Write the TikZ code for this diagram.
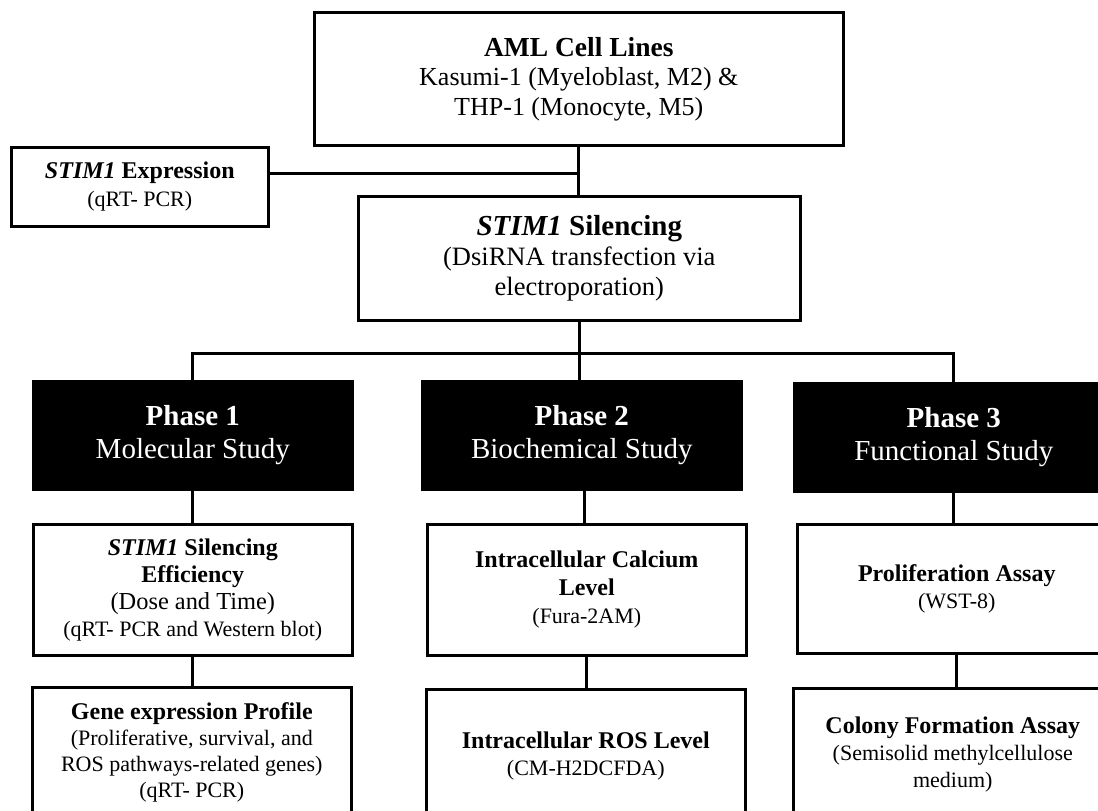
\documentclass[tikz,border=0pt]{standalone}
\usepackage{fontspec}
\setmainfont{Liberation Serif}
\usepackage{tikz}
\usetikzlibrary{positioning}

\newcommand{\fsz}[2]{\fontsize{#1}{#2}\selectfont}
\newcommand{\stim}{\textbf{\textit{STIM1}}}

\tikzset{
	box/.style={draw, line width=2.6, inner sep=0pt, align=center,
		anchor=north west, minimum width=319, minimum height=131},
	phasebox/.style={box, fill=black, text=white, minimum height=108,
		font=\fsz{29}{33}},
	link/.style={line width=3},
}

\begin{document}
\begin{tikzpicture}[x=1pt,y=-1pt]
	\useasboundingbox (0,0) rectangle (1098,811);
	\clip (0,0) rectangle (1098,811);
	
	\node[box, minimum width=529, minimum height=133, font=\fsz{26}{29.5}] 
	(cells) at (313,11) {{\fsz{27.5}{29.5}\bfseries AML Cell Lines}\\
		Kasumi-1 (Myeloblast, M2) \&\\ THP-1 (Monocyte, M5)};
	\node[box, minimum width=257, minimum height=79, font=\fsz{22}{28}] 
	(expr) at (10,146) {{\fsz{24}{28}\stim\ \bfseries Expression}\\ (qRT- PCR)};
	\node[box, minimum width=442, minimum height=124, font=\fsz{26.5}{30}] 
	(silence) at (357,195) {{\fsz{29}{30}\stim\ \bfseries Silencing}\\
		(DsiRNA transfection via\\ electroporation)};
	
	\node[phasebox] (ph1) at (32,380) {\textbf{Phase 1}\\ Molecular Study};
	\node[phasebox] (ph2) at (421,380) {\textbf{Phase 2}\\ Biochemical Study};
	\node[phasebox] (ph3) at (793,382) {\textbf{Phase 3}\\ Functional Study};
	
	\node[box, font=\fsz{22}{27}] (eff) at (32,523) 
	{{\fsz{24}{28}\stim\ \bfseries Silencing}\\ {\fsz{24}{28}\bfseries Efficiency}\\
		{\fsz{24.4}{28}(Dose and Time)}\\ (qRT- PCR and Western blot)};
	\node[box, font=\fsz{22}{26}] (gene) at (31,686) 
	{{\fsz{24}{26}\bfseries Gene expression Profile}\\ (Proliferative, survival, and\\
		ROS pathways-related genes)\\ (qRT- PCR)};
	
	\node[box, font=\fsz{22}{28}] (calcium) at (426,523) 
	{{\fsz{24}{28}\bfseries Intracellular Calcium}\\ {\fsz{24}{28}\bfseries Level}\\ (Fura-2AM)};
	\node[box, minimum height=134, font=\fsz{22}{27}] (ros) at (425,688) 
	{{\fsz{24}{27}\bfseries Intracellular ROS Level}\\ (CM-H2DCFDA)};
	
	\node[box, minimum height=129, font=\fsz{22}{27}] (prolif) at (796,523) 
	{{\fsz{24}{27}\bfseries Proliferation Assay}\\ (WST-8)};
	\node[box, minimum height=132, font=\fsz{22}{27}] (colony) at (792,687) 
	{{\fsz{24}{27}\bfseries Colony Formation Assay}\\ (Semisolid methylcellulose\\ medium)};
	
	\coordinate (bus) at (579,353);
	\draw[link] (cells.south) -- (cells.south |- silence.north);
	\draw[link] ([yshift=13pt]expr.east) -- ([yshift=13pt]expr.east -| cells.south);
	\draw[link] (silence.south) -- (silence.south |- bus);
	\draw[link] (ph1.north) |- (bus) -| (ph3.north);
	\draw[link] (bus) -- (bus |- ph2.north);
	
	\draw[link] (ph1.south) -- (eff.north);
	\draw[link] (eff.south) -- (eff.south |- gene.north);
	\draw[link] ([xshift=2.5pt]ph2.south) -- ([xshift=2.5pt]ph2.south |- calcium.north);
	\draw[link] (calcium.south) -- (calcium.south |- ros.north);
	\draw[link] (ph3.south) -- (ph3.south |- prolif.north);
	\draw[link] (prolif.south) -- (prolif.south |- colony.north);
\end{tikzpicture}
\end{document}
